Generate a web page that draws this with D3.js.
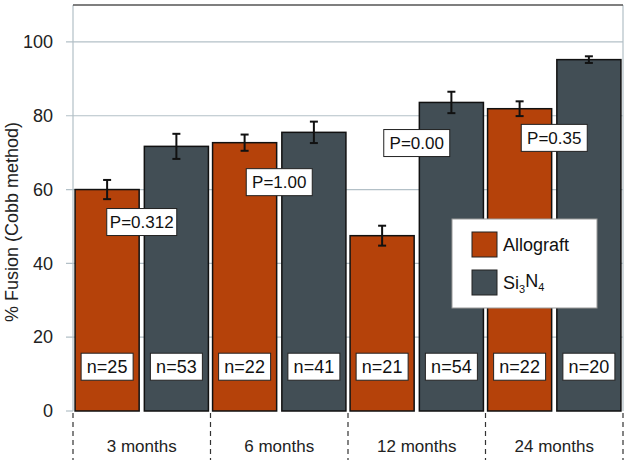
<!DOCTYPE html>
<html><head><meta charset="utf-8">
<script src="https://cdn.jsdelivr.net/npm/d3@7"></script>
<style>body{margin:0;background:#fff}svg{display:block;font-family:"Liberation Sans",Arial,sans-serif}</style>
</head><body><svg id="c" width="629" height="460"></svg>
<script>
const categories = ["3 months","6 months","12 months","24 months"];
const seriesNames = ["Allograft","Si\u2083N\u2084"];
const allograft = [60.0, 72.7, 47.5, 81.9];
const allograftErr = [2.6, 2.2, 2.7, 2.0];
const si3n4 = [71.7, 75.5, 83.6, 95.2];
const si3n4Err = [3.4, 2.9, 2.9, 0.9];
const nAllograft = [25, 22, 21, 22];
const nSi3n4 = [53, 41, 54, 20];
const pLabels = ["P=0.312","P=1.00","P=0.00","P=0.35"];
const pLabelY = [51.2, 62.0, 72.6, 74.0];
const yTicks = [0,20,40,60,80,100];
const colors = ["#b5420a","#424e55"];

const svg = d3.select("#c");
const L=73, R=623, T=5, B=411;
const y = d3.scaleLinear().domain([0,110]).range([B,T]);
const x0 = d3.scaleBand().domain(categories).range([L,R]).padding(0);
const x1 = d3.scaleBand().domain([0,1]).range([0,x0.bandwidth()]).paddingInner(0.075).paddingOuter(0.03);

// gridlines
svg.append("g").selectAll("line").data(yTicks.filter(d=>d>0)).join("line")
  .attr("x1",L-7).attr("x2",R).attr("y1",d=>y(d)).attr("y2",d=>y(d))
  .attr("stroke","#b3c0c7").attr("stroke-width",1.2);
svg.append("line").attr("x1",L-7).attr("x2",L).attr("y1",y(0)).attr("y2",y(0)).attr("stroke","#b3c0c7").attr("stroke-width",1.2);
// left axis & right border
svg.append("line").attr("x1",L).attr("x2",L).attr("y1",T).attr("y2",B).attr("stroke","#b3c0c7").attr("stroke-width",1.2);
svg.append("line").attr("x1",R).attr("x2",R).attr("y1",T).attr("y2",B).attr("stroke","#b3c0c7").attr("stroke-width",1.2);
svg.append("line").attr("x1",L).attr("x2",R).attr("y1",T).attr("y2",T).attr("stroke","#555").attr("stroke-width",1.5);

// y tick labels
svg.append("g").selectAll("text").data(yTicks).join("text")
  .attr("x",53).attr("y",d=>y(d)).attr("dy","0.35em").attr("text-anchor","end")
  .attr("font-size",18).attr("fill","#222").text(d=>d);
svg.append("text").attr("transform",`translate(18,222) rotate(-90)`)
  .attr("text-anchor","middle").attr("font-size",18).attr("fill","#222").text("% Fusion (Cobb method)");

const rows = categories.map((c,i)=>[
  {c, s:0, v:allograft[i], e:allograftErr[i], n:nAllograft[i]},
  {c, s:1, v:si3n4[i], e:si3n4Err[i], n:nSi3n4[i]}
]).flat();

const g = svg.append("g");
g.selectAll("rect.bar").data(rows).join("rect").attr("class","bar")
  .attr("x",d=>x0(d.c)+x1(d.s)).attr("width",x1.bandwidth())
  .attr("y",d=>y(d.v)).attr("height",d=>y(0)-y(d.v))
  .attr("fill",d=>colors[d.s]).attr("stroke","#111").attr("stroke-width",1.5);

// error bars
const eb = g.selectAll("g.eb").data(rows).join("g").attr("class","eb")
  .attr("transform",d=>`translate(${x0(d.c)+x1(d.s)+x1.bandwidth()/2},0)`);
eb.append("line").attr("y1",d=>y(d.v+d.e)).attr("y2",d=>y(d.v-d.e)).attr("stroke","#111").attr("stroke-width",2);
eb.append("line").attr("x1",-4).attr("x2",4).attr("y1",d=>y(d.v+d.e)).attr("y2",d=>y(d.v+d.e)).attr("stroke","#111").attr("stroke-width",2);
eb.append("line").attr("x1",-4).attr("x2",4).attr("y1",d=>y(d.v-d.e)).attr("y2",d=>y(d.v-d.e)).attr("stroke","#111").attr("stroke-width",2);

// n labels
const nl = g.selectAll("g.nl").data(rows).join("g").attr("class","nl")
  .attr("transform",d=>`translate(${x0(d.c)+x1(d.s)+x1.bandwidth()/2},${y(12)})`);
nl.append("rect").attr("x",-26).attr("y",-13.5).attr("width",52).attr("height",27)
  .attr("fill","#fff").attr("stroke","#222").attr("stroke-width",1);
nl.append("text").attr("text-anchor","middle").attr("dy","0.36em").attr("font-size",18).attr("fill","#111").text(d=>"n="+d.n);

// P labels
const pl = g.selectAll("g.pl").data(categories).join("g").attr("class","pl")
  .attr("transform",(d,i)=>`translate(${x0(d)+x0.bandwidth()/2},${y(pLabelY[i])})`);
pl.each(function(d,i){
  const el=d3.select(this);
  const w = pLabels[i].length===7?70:66;
  el.append("rect").attr("x",-w/2).attr("y",-13.5).attr("width",w).attr("height",27)
    .attr("fill","#fff").attr("stroke","#222").attr("stroke-width",1);
  el.append("text").attr("text-anchor","middle").attr("dy","0.36em").attr("font-size",17).attr("fill","#111").text(pLabels[i]);
});

// x axis dashed separators and labels
const bounds = categories.map(c=>x0(c)).concat([R]);
svg.append("g").selectAll("line").data(bounds).join("line")
  .attr("x1",d=>d).attr("x2",d=>d).attr("y1",B+2).attr("y2",460)
  .attr("stroke","#333").attr("stroke-width",1.2).attr("stroke-dasharray","5,4");
svg.append("g").selectAll("text").data(categories).join("text")
  .attr("x",d=>x0(d)+x0.bandwidth()/2).attr("y",446).attr("dy","0.35em")
  .attr("text-anchor","middle").attr("font-size",17).attr("fill","#222").text(d=>d);

// legend
const lg = svg.append("g").attr("transform","translate(452,219)");
lg.append("rect").attr("width",145).attr("height",89).attr("fill","#fff").attr("stroke","#999").attr("stroke-width",1);
lg.selectAll("rect.sw").data(seriesNames).join("rect").attr("class","sw")
  .attr("x",20).attr("y",(d,i)=>13+i*38).attr("width",25).attr("height",25)
  .attr("fill",(d,i)=>colors[i]).attr("stroke","#222").attr("stroke-width",1);
lg.append("text").attr("x",51).attr("y",26).attr("dy","0.35em").attr("font-size",18).attr("fill","#111").text(seriesNames[0]);
const t2 = lg.append("text").attr("x",51).attr("y",64).attr("dy","0.35em").attr("font-size",18).attr("fill","#111");
t2.append("tspan").text("Si");
t2.append("tspan").attr("font-size",11).attr("dy","0.3em").text("3");
t2.append("tspan").attr("dy","-0.3em").text("N");
t2.append("tspan").attr("font-size",11).attr("dy","0.3em").text("4");
</script></body></html>
